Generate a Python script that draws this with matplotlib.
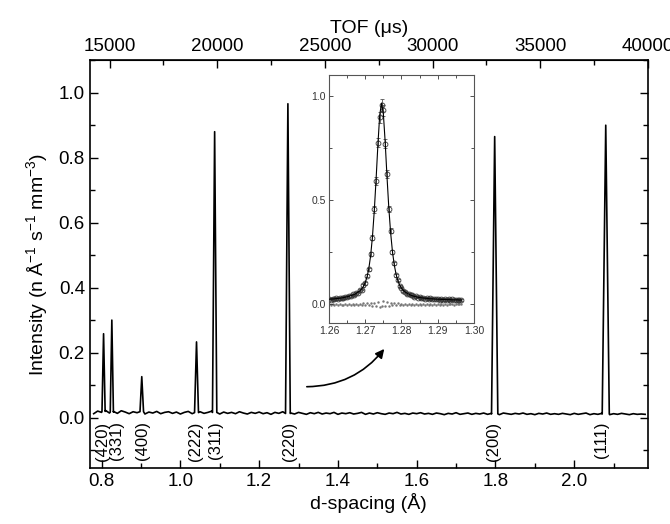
import numpy as np
import matplotlib
matplotlib.use("Agg", force=True)
import matplotlib.pyplot as plt
from matplotlib.ticker import MultipleLocator, FormatStrFormatter

plt.rcParams["font.family"] = ["Liberation Sans", "DejaVu Sans"]
plt.rcParams["mathtext.fontset"] = "custom"
plt.rcParams["mathtext.rm"] = "Liberation Sans"
plt.rcParams["mathtext.it"] = "Liberation Sans:italic"
plt.rcParams["mathtext.default"] = "regular"

# --- main pattern: background bins (d from 0.78, step 0.01 A) ---
bg_start, bg_step = 0.78, 0.01
bg_int = [
    0.012, 0.020, 0.016, 0.022, 0.014, 0.019, 0.013, 0.021, 0.017, 0.012,
    0.018, 0.015, 0.020, 0.011, 0.017, 0.014, 0.019, 0.012, 0.016, 0.018,
    0.013, 0.017, 0.011, 0.016, 0.019, 0.012, 0.015, 0.018, 0.013, 0.016,
    0.020, 0.014, 0.011, 0.017, 0.013, 0.016, 0.012, 0.018, 0.014, 0.011,
    0.016, 0.013, 0.017, 0.012, 0.015, 0.010, 0.016, 0.013, 0.018, 0.012,
    0.014, 0.011, 0.016, 0.013, 0.010, 0.015, 0.012, 0.016, 0.011, 0.014,
    0.012, 0.016, 0.010, 0.014, 0.012, 0.015, 0.011, 0.013, 0.016, 0.010,
    0.014, 0.011, 0.015, 0.012, 0.010, 0.014, 0.012, 0.016, 0.011, 0.013,
    0.010, 0.014, 0.012, 0.015, 0.011, 0.013, 0.010, 0.014, 0.012, 0.009,
    0.013, 0.011, 0.015, 0.010, 0.012, 0.014, 0.010, 0.013, 0.011, 0.014,
    0.010, 0.013, 0.011, 0.009, 0.014, 0.012, 0.010, 0.013, 0.011, 0.014,
    0.010, 0.012, 0.009, 0.013, 0.011, 0.014, 0.010, 0.012, 0.010, 0.013,
    0.011, 0.009, 0.013, 0.010, 0.012, 0.014, 0.009, 0.012, 0.010, 0.013,
    0.011, 0.009, 0.012, 0.010, 0.013, 0.011, 0.009, 0.012, 0.010, 0.011,
    0.010,
]

# --- Bragg peaks ---
hkl = ["(420)", "(331)", "(400)", "(222)", "(311)", "(220)", "(200)", "(111)"]
peak_d = [0.805, 0.826, 0.902, 1.041, 1.087, 1.273, 1.798, 2.080]
peak_h = [0.258, 0.300, 0.126, 0.233, 0.880, 0.966, 0.865, 0.900]
peak_w = [0.004, 0.004, 0.0045, 0.005, 0.0055, 0.006, 0.008, 0.009]
label_d = [0.803, 0.838, 0.904, 1.038, 1.089, 1.276, 1.795, 2.069]

# --- inset: (220) peak, d from 1.2600, step 0.0005 A ---
ins_start, ins_step = 1.2600, 0.0005
ins_calc = [
    0.024, 0.025, 0.025, 0.026, 0.027, 0.028, 0.029, 0.030, 0.032, 0.034,
    0.036, 0.038, 0.041, 0.044, 0.047, 0.052, 0.058, 0.064, 0.073, 0.086,
    0.104, 0.131, 0.172, 0.234, 0.325, 0.448, 0.600, 0.766, 0.908, 0.965,
    0.915, 0.780, 0.615, 0.465, 0.345, 0.255, 0.190, 0.145, 0.113, 0.092,
    0.077, 0.067, 0.059, 0.053, 0.048, 0.044, 0.041, 0.038, 0.036, 0.034,
    0.032, 0.031, 0.030, 0.029, 0.028, 0.027, 0.026, 0.026, 0.025, 0.025,
    0.024, 0.024, 0.023, 0.023, 0.023, 0.022, 0.022, 0.022, 0.021, 0.021,
    0.021, 0.021, 0.020, 0.020,
]
ins_obs = [
    0.027, 0.022, 0.026, 0.024, 0.029, 0.025, 0.031, 0.028, 0.030, 0.036,
    0.033, 0.040, 0.039, 0.047, 0.045, 0.055, 0.056, 0.067, 0.070, 0.090,
    0.100, 0.136, 0.168, 0.240, 0.318, 0.455, 0.592, 0.775, 0.897, 0.955,
    0.930, 0.770, 0.625, 0.458, 0.352, 0.249, 0.196, 0.140, 0.117, 0.089,
    0.080, 0.064, 0.061, 0.050, 0.050, 0.042, 0.043, 0.036, 0.038, 0.032,
    0.034, 0.029, 0.032, 0.027, 0.030, 0.025, 0.028, 0.024, 0.027, 0.023,
    0.026, 0.022, 0.025, 0.021, 0.024, 0.020, 0.024, 0.021, 0.023, 0.019,
    0.022, 0.020, 0.022, 0.021,
]
ins_err = [
    0.004, 0.004, 0.004, 0.004, 0.004, 0.004, 0.004, 0.004, 0.004, 0.004,
    0.004, 0.004, 0.004, 0.004, 0.004, 0.004, 0.004, 0.004, 0.004, 0.005,
    0.006, 0.007, 0.008, 0.010, 0.012, 0.015, 0.018, 0.022, 0.026, 0.030,
    0.027, 0.022, 0.018, 0.015, 0.012, 0.010, 0.008, 0.007, 0.006, 0.005,
    0.004, 0.004, 0.004, 0.004, 0.004, 0.004, 0.004, 0.004, 0.004, 0.004,
    0.004, 0.004, 0.004, 0.004, 0.004, 0.004, 0.004, 0.004, 0.004, 0.004,
    0.004, 0.004, 0.004, 0.004, 0.004, 0.004, 0.004, 0.004, 0.004, 0.004,
    0.004, 0.004, 0.004, 0.004,
]

TOF_PER_ANG = 18290.0  # TOF (us) per d-spacing (A) for this bank


def d2tof(d):
    return np.asarray(d) * TOF_PER_ANG


def tof2d(t):
    return np.asarray(t) / TOF_PER_ANG


# build the full pattern: background bins plus peak triangles
bg_d = bg_start + bg_step * np.arange(len(bg_int))
bg_i = np.asarray(bg_int)
keep = np.ones(bg_d.size, dtype=bool)
for d, w in zip(peak_d, peak_w):
    keep &= np.abs(bg_d - d) > w
xs = list(bg_d[keep])
ys = list(bg_i[keep])
for d, h, w in zip(peak_d, peak_h, peak_w):
    base = float(np.interp(d, bg_d, bg_i))
    xs += [d - w, d, d + w]
    ys += [base, h, base]
order = np.argsort(xs)
pat_d = np.asarray(xs)[order]
pat_i = np.asarray(ys)[order]

fig = plt.figure(figsize=(6.7, 5.24), dpi=100)
ax = fig.add_axes([0.134, 0.107, 0.833, 0.778])
ax.plot(pat_d, pat_i, color="k", lw=1.2)

ax.set_xlim(0.77, 2.187)
ax.set_ylim(-0.155, 1.1)
ax.xaxis.set_major_locator(MultipleLocator(0.2))
ax.xaxis.set_minor_locator(MultipleLocator(0.1))
ax.yaxis.set_major_locator(MultipleLocator(0.2))
ax.yaxis.set_minor_locator(MultipleLocator(0.1))
ax.xaxis.set_major_formatter(FormatStrFormatter("%.1f"))
ax.yaxis.set_major_formatter(FormatStrFormatter("%.1f"))
ax.tick_params(which="both", direction="in", top=False, right=True, width=1.0,
               labelsize=13.5)
ax.tick_params(which="major", length=6)
ax.tick_params(which="minor", length=3.5)
for sp in ax.spines.values():
    sp.set_linewidth(1.2)
ax.set_xlabel("d-spacing (Å)", fontsize=14, labelpad=2)
ax.set_ylabel("Intensity (n Å$^{-1}$ s$^{-1}$ mm$^{-3}$)", fontsize=14, labelpad=6)

for lab, d in zip(hkl, label_d):
    ax.text(d, -0.012, lab, rotation=90, ha="center", va="top", fontsize=12)

sec = ax.secondary_xaxis("top", functions=(d2tof, tof2d))
sec.xaxis.set_major_locator(MultipleLocator(5000))
sec.xaxis.set_minor_locator(MultipleLocator(2500))
sec.tick_params(which="both", direction="in", width=1.0, labelsize=13.5)
sec.tick_params(which="major", length=6)
sec.tick_params(which="minor", length=3.5)
sec.set_xlabel("TOF (μs)", fontsize=14, labelpad=4)

ax.annotate("", xy=(1.522, 0.218), xytext=(1.314, 0.095),
            arrowprops=dict(arrowstyle="-|>", connectionstyle="arc3,rad=0.25",
                            color="k", lw=1.2, mutation_scale=13))

# inset
ins_d = ins_start + ins_step * np.arange(len(ins_obs))
obs = np.asarray(ins_obs)
calc = np.asarray(ins_calc)
axi = fig.add_axes([0.491, 0.3836, 0.2164, 0.4733])
axi.errorbar(ins_d, obs, yerr=ins_err, fmt="o", ms=3.5, mfc="none", mec="#333333",
             mew=0.6, ecolor="#555555", elinewidth=0.6, capsize=1.5, capthick=0.6,
             zorder=2)
axi.plot(ins_d, calc, color="k", lw=0.8, zorder=3)
axi.plot(ins_d, obs - calc, ".", color="#777777", ms=1.5, zorder=1)
axi.set_xlim(1.26, 1.30)
axi.set_ylim(-0.09, 1.1)
axi.xaxis.set_major_locator(MultipleLocator(0.01))
axi.xaxis.set_minor_locator(MultipleLocator(0.005))
axi.yaxis.set_major_locator(MultipleLocator(0.5))
axi.yaxis.set_minor_locator(MultipleLocator(0.25))
axi.xaxis.set_major_formatter(FormatStrFormatter("%.2f"))
axi.yaxis.set_major_formatter(FormatStrFormatter("%.1f"))
axi.tick_params(which="both", direction="in", top=True, right=True, width=0.6,
                labelsize=7.5, pad=2, colors="#333333")
axi.tick_params(which="major", length=3)
axi.tick_params(which="minor", length=2)
for sp in axi.spines.values():
    sp.set_linewidth(0.8)
    sp.set_color("#555555")

fig.savefig("out.png", dpi=100)
plt.close(fig)
